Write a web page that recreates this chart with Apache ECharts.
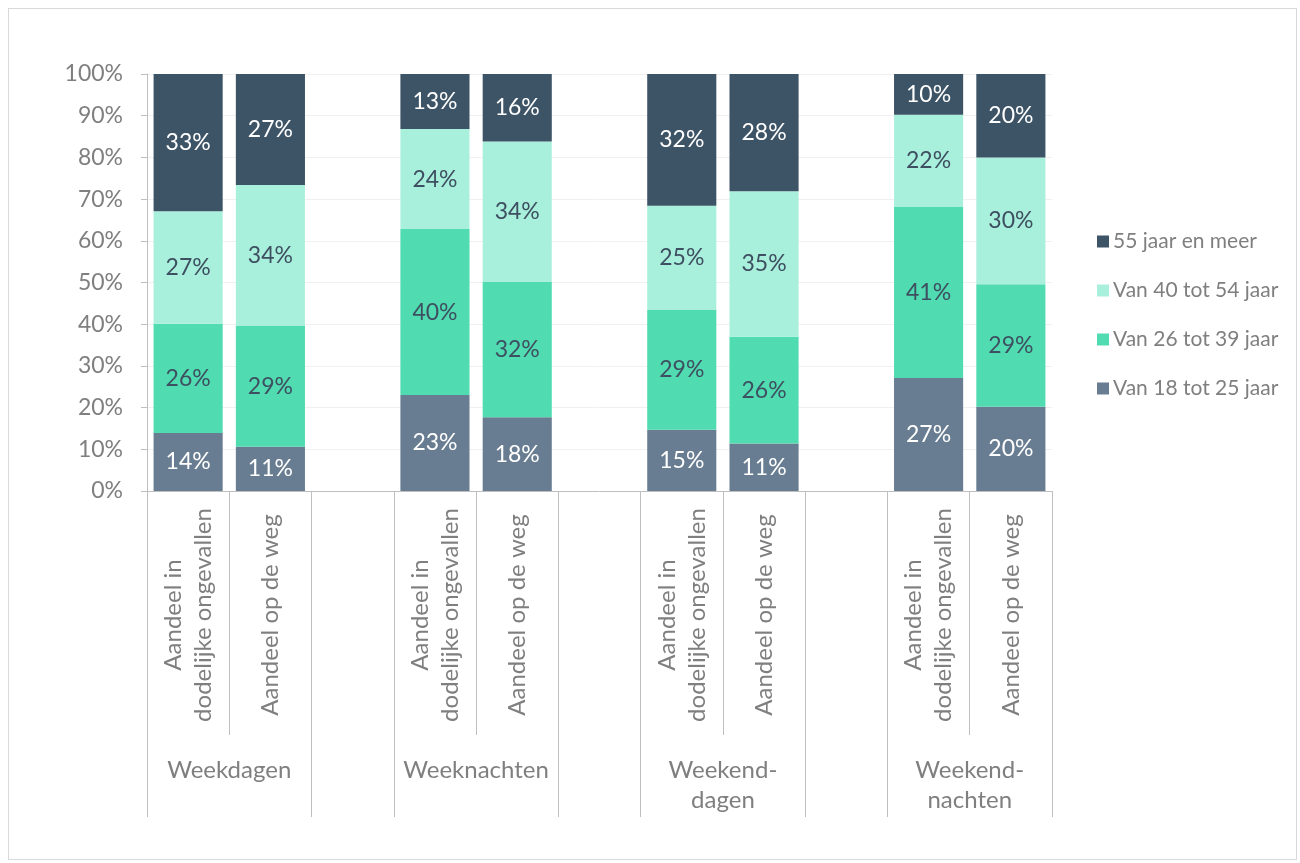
<!DOCTYPE html>
<html>
<head>
<meta charset="utf-8">
<script src="https://cdn.jsdelivr.net/npm/echarts@6/dist/echarts.min.js"></script>
<style>
  html, body { margin: 0; padding: 0; background: #ffffff; }
  #frame { position: absolute; left: 8px; top: 8px; width: 1287px; height: 850px; border: 1px solid #d9d9d9; }
  #chart { position: absolute; left: 0; top: 0; width: 1300px; height: 863px; }
</style>
</head>
<body>
<div id="frame"></div>
<div id="chart"></div>
<script>
// bar labels (two bars per group) and group names
const barLabels = ['Aandeel in\ndodelijke ongevallen', 'Aandeel op de weg'];
const groups = ['Weekdagen', 'Weeknachten', 'Weekend-\ndagen', 'Weekend-\nnachten'];

// shares in % per bar (order: group1 bar1, group1 bar2, group2 bar1, ...)
const age18to25 = [13.9, 10.6, 23.0, 17.7, 14.7, 11.4, 27.1, 20.2];
const age26to39 = [26.2, 29.1, 39.8, 32.4, 28.8, 25.6, 41.0, 29.4];
const age40to54 = [27.0, 33.7, 24.0, 33.7, 24.9, 34.9, 22.1, 30.4];
const age55plus = [32.9, 26.6, 13.2, 16.2, 31.6, 28.1, 9.8, 20.0];

const yTicks = [0, 10, 20, 30, 40, 50, 60, 70, 80, 90, 100];

// build 11 slots: 2 bars per group with an empty slot in between
function slots(values) {
  const out = [];
  values.forEach((v, i) => {
    out.push(v);
    if (i % 2 === 1 && i < values.length - 1) out.push('-');
  });
  return out;
}
const innerCats = slots(groups.flatMap(() => barLabels)).map((c) => (c === '-' ? '' : c));
// outer axis: 12 boundary points, group name on the point between its two bars
const outerCats = [];
for (let i = 0; i < 12; i++) outerCats.push(i % 3 === 1 ? groups[(i - 1) / 3] : '');

const grey = '#7f7f7f';
const lineGrey = '#bfbfbf';
const font = 'Lato, "Open Sans", sans-serif';

const seriesDefs = [
  { name: 'Van 18 tot 25 jaar', data: age18to25, color: '#687d91', label: '#ffffff' },
  { name: 'Van 26 tot 39 jaar', data: age26to39, color: '#50dbb0', label: '#3d4f60' },
  { name: 'Van 40 tot 54 jaar', data: age40to54, color: '#a9f0dc', label: '#3d4f60' },
  { name: '55 jaar en meer', data: age55plus, color: '#3d5366', label: '#ffffff' },
];

const chart = echarts.init(document.getElementById('chart'));

chart.setOption({
  animation: false,
  textStyle: { fontFamily: font },
  grid: { left: 147, right: 248, top: 74, bottom: 372 },
  legend: {
    orient: 'vertical',
    left: 1092,
    top: 226,
    itemWidth: 12,
    itemHeight: 12,
    itemGap: 28,
    icon: 'rect',
    data: ['55 jaar en meer', 'Van 40 tot 54 jaar', 'Van 26 tot 39 jaar', 'Van 18 tot 25 jaar'],
    textStyle: { color: grey, fontSize: 21, fontFamily: font, padding: [0, 0, 0, -1] },
  },
  xAxis: [
    {
      type: 'category',
      position: 'bottom',
      data: innerCats,
      axisLine: { show: true, lineStyle: { color: lineGrey, width: 1 } },
      axisTick: { show: true, interval: 0, length: 244, lineStyle: { color: lineGrey } },
      axisLabel: {
        interval: 0,
        rotate: 90,
        align: 'center',
        verticalAlign: 'middle',
        margin: 124,
        color: grey,
        fontSize: 24,
        lineHeight: 30,
        fontFamily: font,
      },
    },
    {
      type: 'category',
      position: 'bottom',
      boundaryGap: false,
      data: outerCats,
      axisLine: { show: false },
      axisTick: {
        show: true,
        length: 326,
        interval: (idx) => idx % 3 !== 1,
        lineStyle: { color: lineGrey },
      },
      axisLabel: {
        interval: 0,
        margin: 264,
        verticalAlign: 'top',
        color: grey,
        fontSize: 24,
        lineHeight: 30,
        fontFamily: font,
      },
    },
  ],
  yAxis: {
    type: 'value',
    min: yTicks[0],
    max: yTicks[yTicks.length - 1],
    interval: 10,
    axisLine: { show: true, lineStyle: { color: lineGrey } },
    axisTick: { show: true, length: 6, lineStyle: { color: lineGrey } },
    axisLabel: { color: grey, fontSize: 23, margin: 24, formatter: '{value}%', fontFamily: font },
    splitLine: { show: true, lineStyle: { color: '#f0f0f0' } },
  },
  series: seriesDefs.map((s) => ({
    name: s.name,
    type: 'bar',
    stack: 'total',
    xAxisIndex: 0,
    barWidth: '84%',
    data: slots(s.data),
    itemStyle: { color: s.color },
    label: {
      show: true,
      position: 'inside',
      color: s.label,
      fontSize: 23,
      fontFamily: font,
      formatter: (p) => (typeof p.value === 'number' ? Math.round(p.value) + '%' : ''),
    },
  })),
});
</script>
</body>
</html>
